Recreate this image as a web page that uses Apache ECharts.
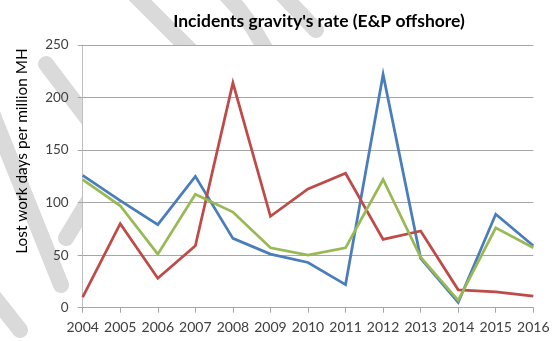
<!DOCTYPE html>
<html>
<head>
<meta charset="utf-8">
<script src="https://cdn.jsdelivr.net/npm/echarts@6/dist/echarts.min.js"></script>
<style>
  html, body { margin: 0; padding: 0; background: #fff; }
  #chart { width: 559px; height: 341px; }
</style>
</head>
<body>
<div id="chart"></div>
<script>
// Years on the category axis
const years = ['2004','2005','2006','2007','2008','2009','2010','2011','2012','2013','2014','2015','2016'];

// Lost work days per million man-hours, three series
const seriesBlue  = [126, 102, 79, 125, 66, 51, 43, 22, 222, 47, 5, 89, 59];
const seriesRed   = [10, 80, 28, 59, 214, 87, 113, 128, 65, 73, 17, 15, 11];
const seriesGreen = [122, 97, 51, 108, 91, 57, 50, 57, 122, 48, 7, 76, 57];

// Value axis ticks
const yTicks = [0, 50, 100, 150, 200, 250];

const FONT = 'Lato, "Open Sans", sans-serif';
const WM = '#dadada';

// Light grey background watermark strokes
function stroke(points) {
  return {
    type: 'polyline',
    z: -10,
    silent: true,
    shape: { points: points },
    style: { stroke: WM, lineWidth: 16, lineCap: 'round', lineJoin: 'round', fill: null }
  };
}

const chart = echarts.init(document.getElementById('chart'), null, { renderer: 'canvas' });

chart.setOption({
  backgroundColor: '#fff',
  animation: false,
  title: {
    text: "Incidents gravity's rate (E&P offshore)",
    left: 314,
    top: 7,
    textAlign: 'center',
    textStyle: { fontFamily: FONT, fontWeight: 'bold', fontSize: 17.5, color: '#000' }
  },
  graphic: [
    stroke([[128, -12], [190, 50]]),
    stroke([[220, -12], [238, 8], [253, 28], [266, 50]]),
    stroke([[276, -12], [316, 30]]),
    stroke([[46, 64], [90, 122]]),
    stroke([[-10, 108], [61, 285]]),
    stroke([[66, 238], [92, 195]]),
    stroke([[-10, 292], [20, 330]]),
    {
      type: 'text',
      z: 10,
      rotation: Math.PI / 2,
      x: 22,
      y: 151,
      style: {
        text: 'Lost work days per million MH',
        fontFamily: FONT,
        fontSize: 15.4,
        fill: '#000',
        align: 'center',
        verticalAlign: 'middle'
      }
    }
  ],
  grid: {
    left: 82.7,
    right: 25.7,
    top: 45,
    bottom: 33.3,
    show: true,
    backgroundColor: '#fff',
    borderWidth: 0,
    containLabel: false
  },
  xAxis: {
    type: 'category',
    data: years,
    boundaryGap: false,
    axisLine: { show: true, lineStyle: { color: '#a6a6a6', width: 1 } },
    axisTick: { show: true, length: 5, inside: false, interval: 0, lineStyle: { color: '#a6a6a6' } },
    axisLabel: { fontFamily: FONT, fontSize: 14, color: '#404040', margin: 13, interval: 0 },
    splitLine: { show: false }
  },
  yAxis: {
    type: 'value',
    min: yTicks[0],
    max: yTicks[yTicks.length - 1],
    interval: yTicks[1] - yTicks[0],
    axisLine: { show: true, lineStyle: { color: '#bfbfbf', width: 1 } },
    axisTick: { show: true, length: 5, inside: false, lineStyle: { color: '#a6a6a6' } },
    axisLabel: { fontFamily: FONT, fontSize: 13.5, color: '#404040', margin: 14 },
    splitLine: { show: true, lineStyle: { color: '#a6a6a6', width: 1 } }
  },
  series: [
    {
      type: 'line', data: seriesBlue, symbol: 'none',
      lineStyle: { color: '#4a7ebb', width: 2.75, join: 'miter' }
    },
    {
      type: 'line', data: seriesRed, symbol: 'none',
      lineStyle: { color: '#be4b48', width: 2.75, join: 'miter' }
    },
    {
      type: 'line', data: seriesGreen, symbol: 'none',
      lineStyle: { color: '#98b954', width: 2.75, join: 'miter' }
    }
  ]
});
</script>
</body>
</html>
